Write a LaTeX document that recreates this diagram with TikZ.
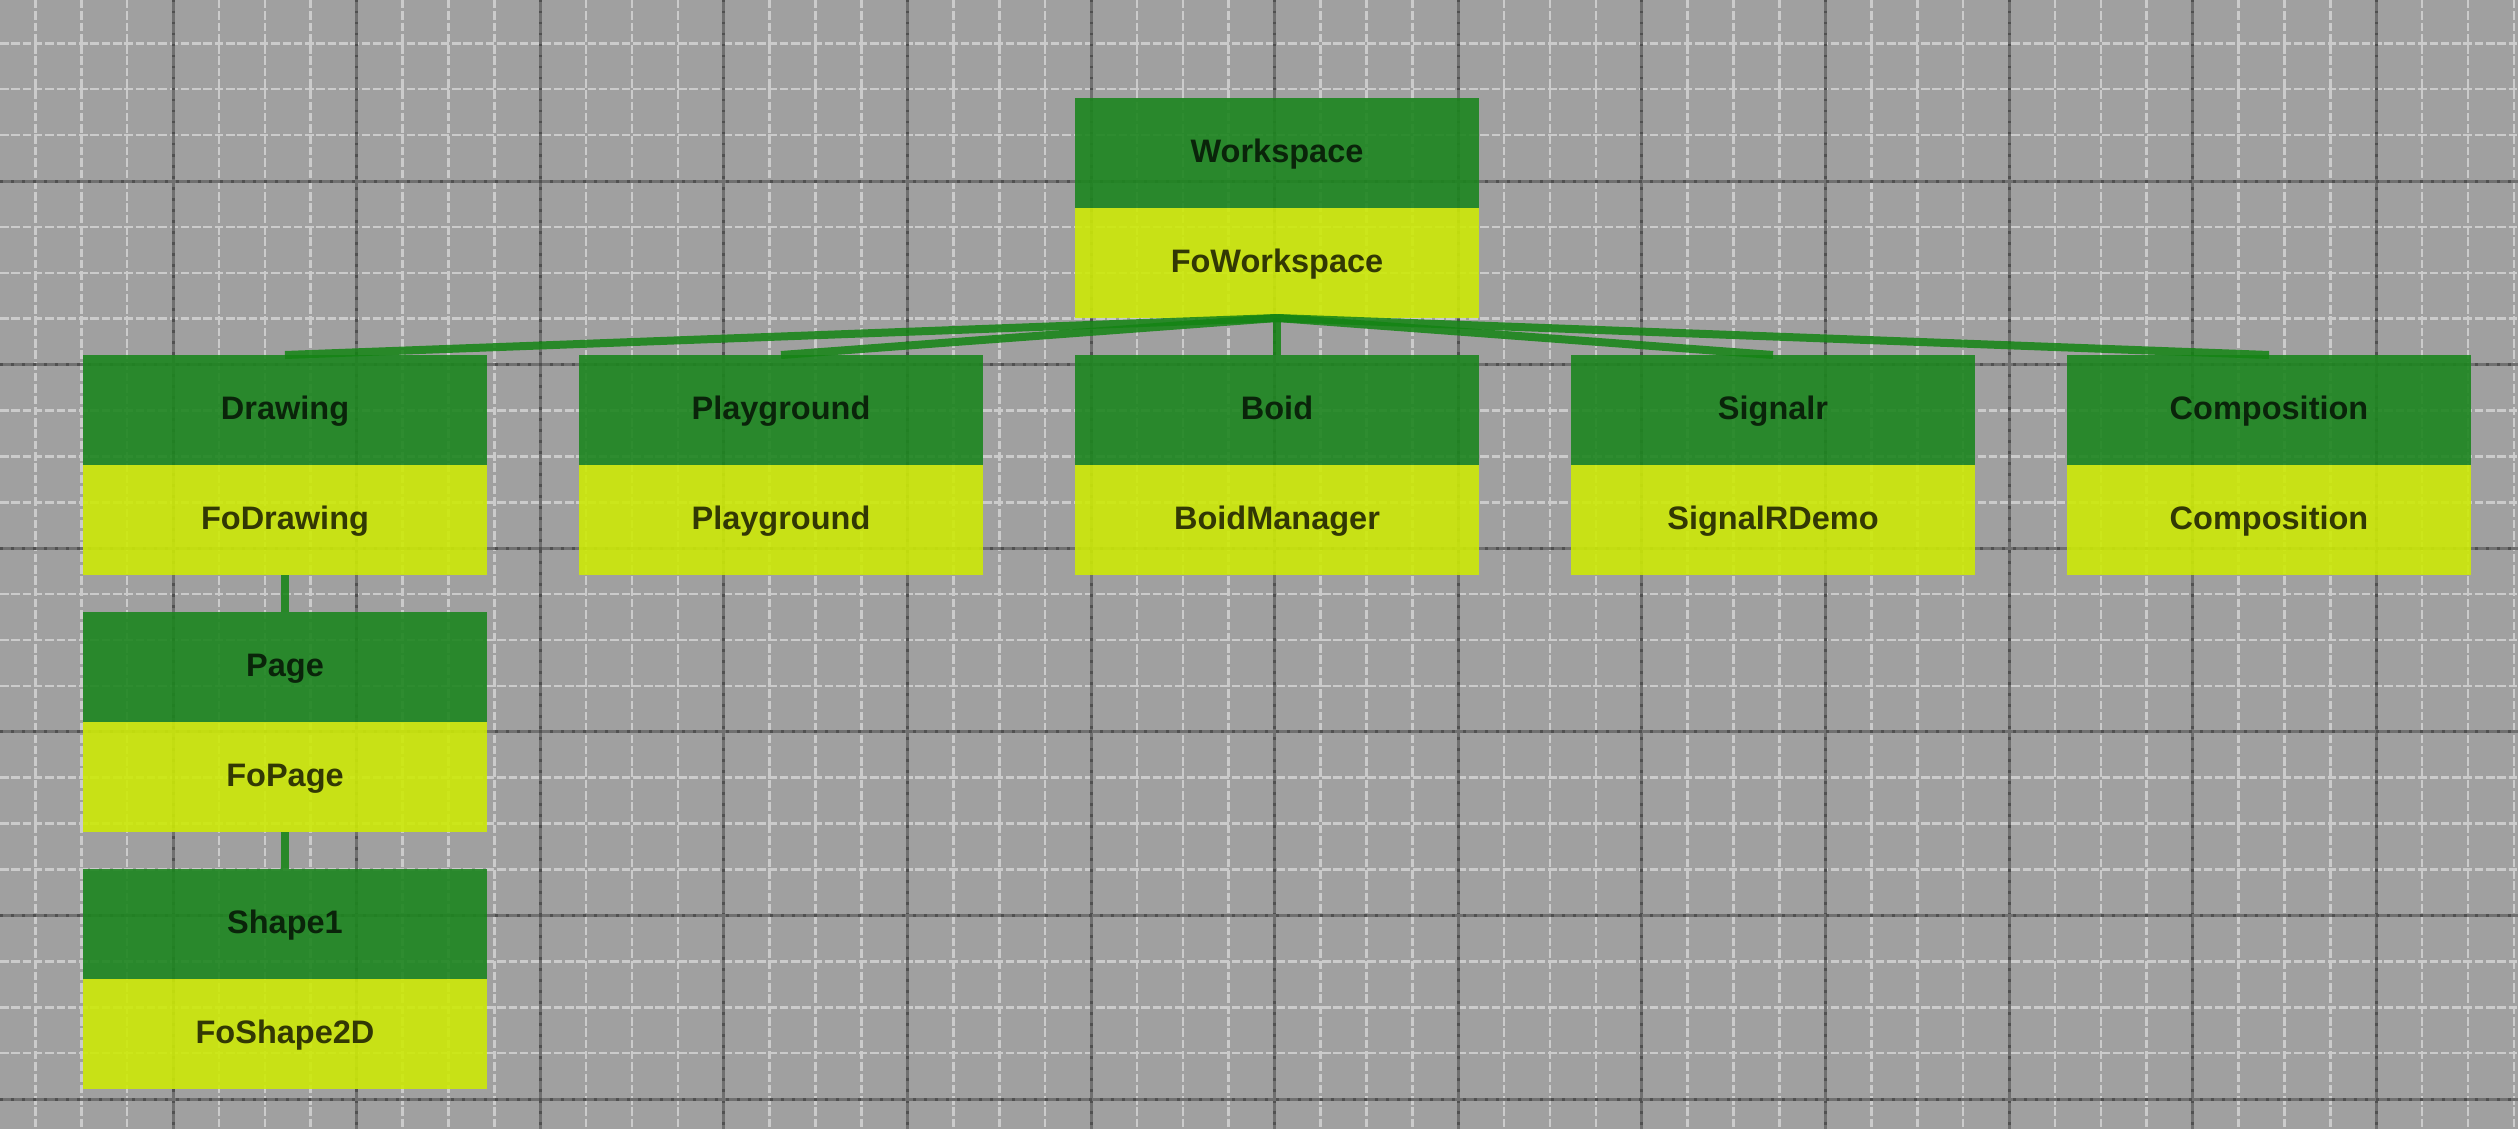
\documentclass[tikz,border=0pt]{standalone}
\usepackage{fontspec}
\setmainfont{Liberation Sans}
\begin{document}
\definecolor{bggray}{RGB}{160,160,160}
\definecolor{minorline}{RGB}{203,203,203}
\definecolor{majorline}{RGB}{112,112,112}
\definecolor{majordot}{RGB}{80,80,80}
\definecolor{hdrgreen}{RGB}{29,134,32}
\definecolor{bodyyellow}{RGB}{205,233,8}
\definecolor{conngreen}{RGB}{20,132,20}
\definecolor{hdrtext}{RGB}{10,36,10}
\definecolor{bodytext}{RGB}{50,56,4}
\tikzset{
  boxbase/.style={anchor=north west, minimum width=404pt, minimum height=110pt,
    inner sep=0pt, outer sep=0pt, fill opacity=0.9, text opacity=1,
    text height=23.3pt, text depth=4.3pt,
    font=\bfseries\fontsize{32.5}{39}\selectfont},
  hdr/.style={boxbase, fill=hdrgreen, text=hdrtext},
  body/.style={boxbase, fill=bodyyellow, text=bodytext},
  conn/.style={draw=conngreen, line width=8pt, draw opacity=0.85},
  minorgrid/.style={draw=minorline, line width=2.6pt, dash pattern=on 8.5pt off 2.8pt},
  majorgrid/.style={draw=majorline, line width=3pt},
  majordots/.style={draw=majordot, line width=3pt, dash pattern=on 2.5pt off 8.5pt}
}
\begin{tikzpicture}[x=1pt,y=-1pt]
\fill[bggray] (0,0) rectangle (2518,1129);
\useasboundingbox (0,0) rectangle (2518,1129);
% minor grid
\foreach \i in {-3,...,51}{
  \pgfmathtruncatemacro\m{mod(\i+100,4)}
  \ifnum\m=0\else
    \draw[minorgrid] ({173+45.9*\i},0) -- ({173+45.9*\i},1129);
  \fi
}
\foreach \j in {-3,...,20}{
  \pgfmathtruncatemacro\m{mod(\j+100,4)}
  \ifnum\m=0\else
    \draw[minorgrid] (0,{181+45.9*\j}) -- (2518,{181+45.9*\j});
  \fi
}
% major grid
\foreach \k in {0,...,12}{
  \draw[majorgrid] ({173+183.6*\k},0) -- ({173+183.6*\k},1129);
  \draw[majordots] ({173+183.6*\k},0) -- ({173+183.6*\k},1129);
}
\foreach \k in {0,...,5}{
  \draw[majorgrid] (0,{181+183.6*\k}) -- (2518,{181+183.6*\k});
  \draw[majordots] (0,{181+183.6*\k}) -- (2518,{181+183.6*\k});
}
% boxes
\node[hdr]  (wsh) at (1075,98)  {Workspace};
\node[body] (wsb) at (1075,208) {FoWorkspace};

\node[hdr]  (drh) at (83,355)  {Drawing};
\node[body] (drb) at (83,465)  {FoDrawing};
\node[hdr]  (pgh) at (83,612)  {Page};
\node[body] (pgb) at (83,722)  {FoPage};
\node[hdr]  (shh) at (83,869)  {Shape1};
\node[body] (shb) at (83,979)  {FoShape2D};

\node[hdr]  (plh) at (579,355)  {Playground};
\node[body] (plb) at (579,465)  {Playground};
\node[hdr]  (boh) at (1075,355) {Boid};
\node[body] (bob) at (1075,465) {BoidManager};
\node[hdr]  (sgh) at (1571,355) {Signalr};
\node[body] (sgb) at (1571,465) {SignalRDemo};
\node[hdr]  (coh) at (2067,355) {Composition};
\node[body] (cob) at (2067,465) {Composition};
% connectors
\draw[conn] (wsb.south) -- (drh.north);
\draw[conn] (wsb.south) -- (plh.north);
\draw[conn] (wsb.south) -- (boh.north);
\draw[conn] (wsb.south) -- (sgh.north);
\draw[conn] (wsb.south) -- (coh.north);
\draw[conn] (drb.south) -- (pgh.north);
\draw[conn] (pgb.south) -- (shh.north);
\end{tikzpicture}
\end{document}
